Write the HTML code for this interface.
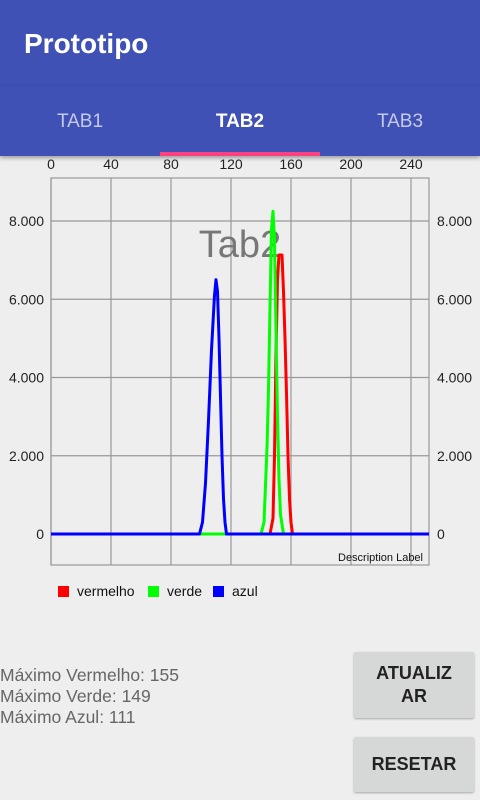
<!DOCTYPE html>
<html><head><meta charset="utf-8"><style>
body{margin:0;width:480px;height:800px;background:#eeeeee;font-family:"Liberation Sans",Roboto,sans-serif;overflow:hidden;position:relative}
.abs{position:absolute}
</style></head><body>
<div class="abs" style="left:0;top:0;width:480px;height:86px;background:#3F51B5">
<div class="abs" style="left:24px;top:28px;color:#fff;font-size:28px;font-weight:bold">Prototipo</div></div>
<div class="abs" style="left:0;top:86px;width:480px;height:70px;background:#3F51B5;box-shadow:0 2px 4px rgba(0,0,0,0.35)">
<div class="abs" style="left:0;top:25px;width:160px;text-align:center;color:#c5cae9;font-size:19px">TAB1</div>
<div class="abs" style="left:160px;top:25px;width:160px;text-align:center;color:#fff;font-size:19px;font-weight:bold">TAB2</div>
<div class="abs" style="left:320px;top:25px;width:160px;text-align:center;color:#c5cae9;font-size:19px">TAB3</div>
<div class="abs" style="left:160px;top:66px;width:160px;height:4px;background:#FF4081"></div>
</div>
<svg class="abs" id="chart" style="left:0;top:156px" width="480" height="460" viewBox="0 156 480 460"></svg>
<div class="abs" style="left:0;top:665px;color:#666;font-size:17.5px">Máximo Vermelho: 155</div>
<div class="abs" style="left:0;top:686px;color:#666;font-size:17.5px">Máximo Verde: 149</div>
<div class="abs" style="left:0;top:707px;color:#666;font-size:17.5px">Máximo Azul: 111</div>
<div class="abs" style="left:354px;top:652px;width:120px;height:66px;background:#d6d7d7;border-radius:2px;box-shadow:0 1px 2px rgba(0,0,0,0.3);color:#222;font-size:18px;font-weight:bold;text-align:center;line-height:23px;padding-top:10px;box-sizing:border-box">ATUALIZ<br>AR</div>
<div class="abs" style="left:354px;top:737px;width:120px;height:55px;background:#d6d7d7;border-radius:2px;box-shadow:0 1px 2px rgba(0,0,0,0.3);color:#222;font-size:18px;font-weight:bold;text-align:center;line-height:55px">RESETAR</div>
<script>
const xTicks=[0,40,80,120,160,200,240];
const yTicks=[0,2000,4000,6000,8000];
const yTickLabels=["0","2.000","4.000","6.000","8.000"];
const redX=[0,146,148,149,150,151,152,154,155,156,157,158,159,160,161,252];
const redY=[0,0,400,2000,4600,6500,7130,7130,6200,5000,3600,2000,900,300,0,0];
const greenX=[0,140,142,144,145,146,147,148,149,150,151,152,153,155,252];
const greenY=[0,0,300,2200,3700,5800,7800,8250,7500,5200,3000,1400,500,0,0];
const blueX=[0,99,101,103,105,107,109,110,111,112,113,114,115,116,117,252];
const blueY=[0,0,300,1300,2900,4700,6100,6500,6200,5000,3500,2000,900,300,0,0];
const svg=document.getElementById('chart');const NS='http://www.w3.org/2000/svg';
const X0=51,XS=1.5,Y0=534,YS=313/8000;
const sx=v=>X0+v*XS, sy=v=>Y0-v*YS;
const L=51,R=429,T=178,B=565;
function mk(t,a,txt){const e=document.createElementNS(NS,t);for(const k in a)e.setAttribute(k,a[k]);if(txt!==undefined)e.textContent=txt;svg.appendChild(e);return e;}
let fr=mk('rect',{x:L,y:T,width:R-L,height:B-T,fill:'none',stroke:'#999','stroke-width':1.2});


xTicks.forEach(v=>{let g=mk('line',{x1:sx(v),x2:sx(v),y1:T,y2:B,stroke:'#999','stroke-width':1.2});


let t=mk('text',{x:sx(v),y:169,'text-anchor':'middle','font-size':14,fill:'#222'},String(v));

});
yTicks.forEach((v,i)=>{let g=mk('line',{x1:L,x2:R,y1:sy(v),y2:sy(v),stroke:'#999','stroke-width':1.2});


let a=mk('text',{x:44,y:sy(v)+5,'text-anchor':'end','font-size':14,fill:'#222'},yTickLabels[i]);


let b=mk('text',{x:437,y:sy(v)+5,'font-size':14,fill:'#222'},yTickLabels[i]);

});
let d=mk('text',{x:240,y:257,'text-anchor':'middle','font-size':38,fill:'#777'},'Tab2');


[[redX,redY,'#ff0000','red-line'],[greenX,greenY,'#00ff00','green-line'],[blueX,blueY,'#0000ff','blue-line']].forEach(s=>{
let p=mk('polyline',{points:s[0].map((x,i)=>sx(x)+','+sy(s[1][i])).join(' '),fill:'none',stroke:s[2],'stroke-width':3,'stroke-linejoin':'round'});

});
let dl=mk('text',{x:423,y:561,'text-anchor':'end','font-size':11,fill:'#111'},'Description Label');


[[58,'#ff0000','vermelho'],[148,'#00ff00','verde'],[213,'#0000ff','azul']].forEach(l=>{
let r=mk('rect',{x:l[0],y:586,width:11,height:11,fill:l[1]});


let t=mk('text',{x:l[0]+19,y:596,'font-size':14,fill:'#111'},l[2]);

});
</script>
</body></html>
